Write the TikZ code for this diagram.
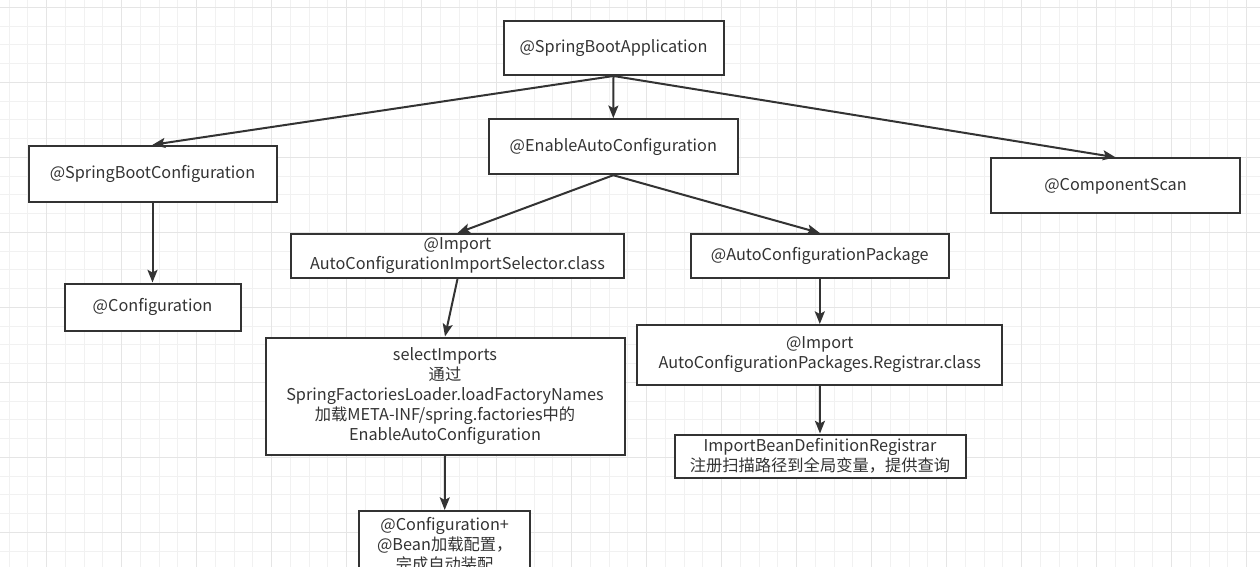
\documentclass[tikz,border=0pt]{standalone}
\usepackage{fontspec}
\setmainfont{Noto Sans CJK SC}
\usetikzlibrary{arrows.meta, positioning}
\definecolor{EdgeGray}{RGB}{51,51,51}
\definecolor{TextGray}{RGB}{51,51,51}
\definecolor{GridMinor}{RGB}{241,241,241}
\definecolor{GridMajor}{RGB}{229,229,229}

\begin{document}
\begin{tikzpicture}[x=0.75pt, y=-0.75pt,
	box/.style={rectangle, draw=EdgeGray, fill=white, line width=1.5pt, align=center,
		inner sep=0pt, text=TextGray, font=\fontsize{12.2}{15}\selectfont},
	link/.style={-{Stealth[length=9.5pt, width=7.5pt, inset=2pt]}, draw=EdgeGray, line width=1.5pt}]
	\useasboundingbox (0,0) rectangle (1260,567);
	\clip (0,0) rectangle (1260,567);
	% background grid
	\fill[white] (0,0) rectangle (1260,567);
	\foreach \gx in {0,...,66}{\draw[GridMinor, line width=0.75pt] ({9.2+18.75*\gx},0) -- ++(0,567);}
	\foreach \gy in {0,...,29}{\draw[GridMinor, line width=0.75pt] (0,{7.3+18.75*\gy}) -- ++(1260,0);}
	\foreach \gx in {0,...,16}{\draw[GridMajor, line width=0.75pt] ({46.7+75*\gx},0) -- ++(0,567);}
	\foreach \gy in {0,...,7}{\draw[GridMajor, line width=0.75pt] (0,{7.3+75*\gy}) -- ++(1260,0);}
	% top
	\node[box, minimum width=165pt, minimum height=40.5pt] (sba) at (613.5,48) {@SpringBootApplication};
	\node[box, minimum width=186.75pt, minimum height=41.25pt] (eac) at (613.3,146.7) {@EnableAutoConfiguration};
	\node[box, minimum width=186pt, minimum height=42pt] (sbc) at (152.5,173.8) {@SpringBootConfiguration};
	\node[box, minimum width=186.75pt, minimum height=41.25pt] (cs) at (1115.5,185.8) {@ComponentScan};
	% left column
	\node[box, minimum width=132pt, minimum height=35.25pt] (cfg) at (152.5,307) {@Configuration};
	% middle column
	\node[box, minimum width=249.75pt, minimum height=33pt] (sel) at (457.5,256) {@Import\\AutoConfigurationImportSelector.class};
	\node[box, minimum width=269.25pt, minimum height=87.75pt] (imp) at (445,396)
		{selectImports\\通过\\SpringFactoriesLoader.loadFactoryNames\\加载META-INF/spring.factories中的\\EnableAutoConfiguration};
	\node[box, minimum width=128.25pt, minimum height=51pt] (auto) at (444.7,545) {@Configuration+\\@Bean加载配置，\\完成自动装配};
	% right column
	\node[box, minimum width=193.5pt, minimum height=33pt] (acp) at (819.8,256) {@AutoConfigurationPackage};
	\node[box, minimum width=273.75pt, minimum height=45pt] (reg) at (819.8,355) {@Import\\AutoConfigurationPackages.Registrar.class};
	\node[box, minimum width=218.25pt, minimum height=32.25pt] (ibdr) at (820,456) {ImportBeanDefinitionRegistrar\\注册扫描路径到全局变量，提供查询};
	% edges
	\foreach \a/\b in {sba/sbc, sba/eac, sba/cs, sbc/cfg, eac/sel, eac/acp, sel/imp, imp/auto, acp/reg, reg/ibdr}
		{\draw[link] (\a.south) -- (\b.north);}
\end{tikzpicture}
\end{document}
